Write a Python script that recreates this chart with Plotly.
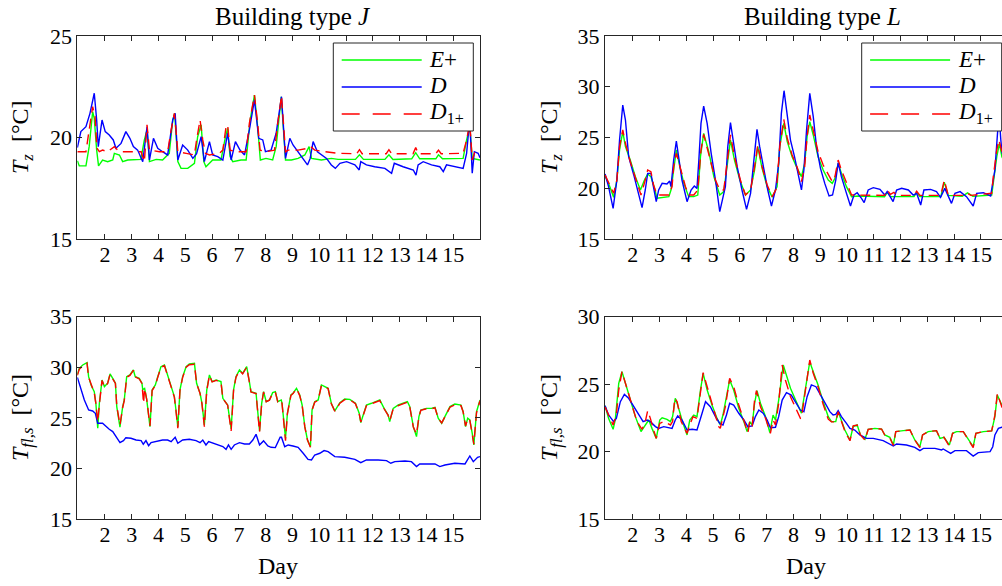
import plotly.graph_objects as go

# ---------------------------------------------------------------------------
# Zone air temperature T_z, building type J  (day, degC)
J_TZ_EPLUS = [
    (0.97, 18.85), (1.04, 18.60), (1.29, 18.60), (1.41, 19.55), (1.54, 21.27), (1.60, 20.94),
    (1.69, 19.38), (1.76, 18.60), (1.91, 18.89), (2.10, 18.81), (2.29, 18.89), (2.35, 19.22),
    (2.54, 19.14), (2.66, 18.81), (2.85, 18.89), (3.10, 18.89), (3.34, 18.92), (3.47, 19.88),
    (3.57, 20.37), (3.66, 18.81), (3.91, 18.92), (4.15, 18.89), (4.40, 19.22), (4.53, 20.86),
    (4.60, 21.19), (4.72, 18.81), (4.84, 18.48), (5.09, 18.48), (5.34, 18.73), (5.46, 20.04),
    (5.59, 20.62), (5.69, 18.81), (5.77, 18.56), (6.02, 18.89), (6.33, 18.89), (6.50, 20.04),
    (6.58, 20.45), (6.67, 19.06), (6.77, 18.81), (7.08, 18.89), (7.27, 18.89), (7.42, 20.86),
    (7.58, 22.09), (7.70, 20.53), (7.80, 18.89), (8.01, 18.97), (8.26, 18.89), (8.39, 19.55),
    (8.58, 22.01), (8.74, 18.89), (8.96, 18.89), (9.21, 18.97), (9.46, 19.14), (9.62, 19.55),
    (9.71, 18.97), (10.08, 18.89), (10.45, 18.97), (10.70, 18.92), (11.35, 18.92), (11.50, 19.15),
    (11.65, 18.92), (12.45, 18.92), (12.60, 19.15), (12.75, 18.92), (13.45, 18.95), (13.60, 19.25),
    (13.75, 18.95), (14.35, 18.95), (14.45, 19.15), (14.60, 18.95), (15.37, 18.97), (15.50, 19.88),
    (15.62, 20.53), (15.71, 18.97), (15.93, 18.89), (16.00, 18.89),
]
J_TZ_D = [
    (0.97, 19.50), (1.03, 19.90), (1.10, 20.29), (1.29, 20.53), (1.44, 21.19), (1.60, 22.18),
    (1.69, 20.86), (1.75, 19.55), (1.89, 20.86), (2.01, 20.29), (2.16, 20.12), (2.31, 19.88),
    (2.41, 19.47), (2.60, 19.71), (2.78, 20.29), (2.93, 19.96), (3.06, 19.55), (3.22, 19.38),
    (3.41, 18.81), (3.57, 20.53), (3.66, 18.89), (3.81, 19.96), (3.97, 19.47), (4.15, 19.30),
    (4.34, 19.14), (4.53, 20.86), (4.62, 21.19), (4.72, 18.89), (4.90, 19.63), (5.09, 19.38),
    (5.28, 18.97), (5.42, 19.20), (5.59, 20.04), (5.71, 18.81), (5.90, 19.80), (6.02, 19.14),
    (6.21, 19.06), (6.40, 18.89), (6.58, 20.21), (6.71, 18.89), (6.87, 19.80), (7.04, 19.38),
    (7.21, 19.14), (7.39, 20.37), (7.58, 21.85), (7.74, 19.96), (7.89, 19.88), (7.99, 19.30),
    (8.20, 19.38), (8.39, 20.21), (8.59, 22.01), (8.74, 18.97), (8.90, 19.96), (9.02, 19.63),
    (9.21, 19.30), (9.40, 18.97), (9.56, 18.65), (9.66, 18.97), (9.77, 19.80), (9.93, 19.30),
    (10.08, 19.14), (10.27, 18.97), (10.45, 18.65), (10.60, 18.48), (10.77, 18.73), (11.02, 18.81),
    (11.33, 18.65), (11.49, 18.40), (11.55, 18.81), (11.76, 18.65), (12.07, 18.56), (12.45, 18.48),
    (12.70, 18.24), (12.80, 18.73), (13.13, 18.56), (13.51, 18.40), (13.61, 18.15), (13.69, 18.65),
    (13.88, 18.81), (14.19, 18.65), (14.50, 18.56), (14.63, 18.32), (14.75, 18.65), (15.13, 18.56),
    (15.37, 18.48), (15.50, 19.22), (15.59, 20.53), (15.63, 20.50), (15.71, 18.24), (15.79, 19.30),
    (15.93, 19.22), (16.00, 19.00),
]
J_TZ_D1 = [
    (0.97, 19.30), (1.29, 19.30), (1.41, 20.37), (1.54, 21.52), (1.63, 21.03), (1.70, 19.47),
    (1.79, 19.30), (1.91, 19.38), (2.10, 19.30), (2.35, 19.55), (2.47, 19.38), (2.60, 19.30),
    (3.35, 19.30), (3.47, 18.81), (3.57, 20.62), (3.66, 19.38), (4.03, 19.30), (4.34, 19.30),
    (4.47, 20.37), (4.59, 21.19), (4.65, 20.37), (4.72, 19.30), (5.03, 19.22), (5.34, 19.14),
    (5.42, 19.88), (5.55, 20.86), (5.65, 19.88), (5.75, 19.22), (5.90, 19.14), (6.27, 19.22),
    (6.40, 19.38), (6.52, 20.53), (6.58, 20.62), (6.67, 19.38), (6.89, 19.30), (7.27, 19.30),
    (7.39, 20.70), (7.58, 22.09), (7.70, 20.70), (7.79, 19.38), (8.01, 19.30), (8.33, 19.38),
    (8.45, 20.70), (8.59, 22.05), (8.74, 19.30), (8.84, 19.38), (9.21, 19.38), (9.58, 19.47),
    (9.68, 19.55), (9.83, 19.38), (10.21, 19.30), (10.70, 19.22), (11.40, 19.20), (11.50, 19.40),
    (11.60, 19.20), (12.50, 19.20), (12.60, 19.40), (12.70, 19.20), (13.50, 19.20), (13.60, 19.50),
    (13.70, 19.20), (14.35, 19.20), (14.45, 19.38), (14.55, 19.20), (15.37, 19.22), (15.50, 19.88),
    (15.62, 20.70), (15.71, 18.89), (15.81, 19.30), (16.00, 19.30),
]

# Floor surface temperature T_fl,s, building type J
J_TFL_EPLUS = [
    (0.97, 29.30), (1.04, 29.90), (1.17, 30.23), (1.33, 30.46), (1.39, 29.07), (1.48, 28.25),
    (1.60, 27.59), (1.66, 26.44), (1.73, 23.97), (1.79, 26.44), (1.89, 28.74), (1.98, 28.09),
    (2.10, 28.42), (2.19, 29.34), (2.29, 28.91), (2.39, 28.42), (2.44, 26.11), (2.56, 24.07),
    (2.66, 26.11), (2.72, 26.77), (2.81, 29.07), (2.93, 29.24), (3.06, 29.73), (3.13, 29.07),
    (3.28, 28.91), (3.38, 28.42), (3.41, 27.80), (3.48, 27.92), (3.56, 26.77), (3.68, 24.13),
    (3.76, 27.76), (3.88, 28.25), (3.97, 29.07), (4.09, 30.06), (4.22, 30.23), (4.34, 29.24),
    (4.47, 28.09), (4.59, 27.10), (4.65, 25.78), (4.72, 24.10), (4.80, 27.76), (4.90, 29.07),
    (5.03, 30.06), (5.15, 30.33), (5.34, 30.39), (5.42, 28.42), (5.55, 27.43), (5.62, 26.44),
    (5.71, 24.30), (5.80, 27.76), (5.90, 29.24), (6.00, 28.58), (6.15, 28.74), (6.33, 28.58),
    (6.40, 26.93), (6.52, 26.44), (6.58, 26.27), (6.71, 23.90), (6.80, 27.76), (6.89, 29.07),
    (7.02, 29.73), (7.14, 29.40), (7.29, 30.06), (7.39, 28.58), (7.45, 27.59), (7.64, 27.43),
    (7.77, 23.70), (7.85, 26.44), (7.92, 27.59), (8.02, 26.60), (8.14, 26.77), (8.26, 27.49),
    (8.36, 27.59), (8.45, 26.60), (8.58, 26.77), (8.61, 26.44), (8.69, 24.13), (8.74, 23.00),
    (8.81, 25.45), (8.94, 27.26), (9.02, 27.43), (9.15, 27.92), (9.27, 27.26), (9.36, 26.27),
    (9.46, 24.13), (9.56, 22.81), (9.67, 22.15), (9.73, 25.78), (9.83, 26.60), (9.96, 26.77),
    (10.08, 28.25), (10.23, 28.09), (10.33, 27.92), (10.45, 26.44), (10.58, 25.68), (10.77, 26.50),
    (10.95, 26.87), (11.14, 26.83), (11.35, 26.44), (11.49, 25.45), (11.55, 24.53), (11.64, 25.29),
    (11.76, 26.27), (11.95, 26.44), (12.14, 26.60), (12.26, 26.77), (12.42, 25.94), (12.57, 25.29),
    (12.63, 24.63), (12.76, 25.94), (12.95, 26.27), (13.13, 26.44), (13.29, 26.60), (13.38, 26.11),
    (13.51, 24.13), (13.63, 23.14), (13.72, 25.12), (13.79, 25.78), (14.00, 25.94), (14.19, 25.94),
    (14.32, 26.04), (14.44, 24.96), (14.57, 24.46), (14.69, 25.12), (14.88, 26.11), (15.06, 26.37),
    (15.29, 26.27), (15.37, 25.61), (15.46, 24.13), (15.54, 24.96), (15.62, 24.79), (15.71, 23.47),
    (15.77, 22.32), (15.87, 25.61), (16.00, 26.77),
]
J_TFL_D = [
    (0.97, 29.00), (1.10, 27.76), (1.23, 26.77), (1.39, 25.78), (1.54, 25.68), (1.64, 25.45),
    (1.73, 24.46), (1.91, 24.46), (2.04, 24.13), (2.16, 23.87), (2.29, 23.64), (2.41, 23.14),
    (2.56, 22.55), (2.69, 22.75), (2.78, 23.04), (2.97, 22.98), (3.16, 22.81), (3.35, 22.75),
    (3.43, 22.39), (3.53, 22.75), (3.63, 22.25), (3.72, 22.55), (3.91, 22.65), (4.15, 22.81),
    (4.34, 22.81), (4.47, 22.65), (4.62, 23.08), (4.72, 22.49), (4.90, 22.81), (5.15, 22.88),
    (5.40, 22.75), (5.55, 22.55), (5.65, 22.81), (5.77, 22.32), (5.87, 22.65), (6.02, 22.49),
    (6.21, 22.32), (6.40, 22.16), (6.52, 21.89), (6.61, 22.32), (6.71, 21.89), (6.83, 22.32),
    (7.02, 22.55), (7.21, 22.42), (7.39, 22.42), (7.52, 22.81), (7.64, 23.37), (7.77, 22.32),
    (7.92, 22.72), (8.08, 22.22), (8.20, 22.09), (8.36, 22.06), (8.54, 23.08), (8.59, 23.08),
    (8.71, 22.15), (8.84, 22.32), (9.02, 22.22), (9.21, 22.09), (9.40, 21.50), (9.58, 20.90),
    (9.71, 20.84), (9.83, 21.33), (10.02, 21.50), (10.18, 21.76), (10.33, 21.66), (10.58, 21.17),
    (10.95, 21.10), (11.33, 20.90), (11.55, 20.57), (11.76, 20.84), (12.20, 20.84), (12.51, 20.77),
    (12.67, 20.51), (12.82, 20.67), (13.20, 20.74), (13.44, 20.67), (13.63, 20.18), (13.75, 20.44),
    (14.32, 20.44), (14.50, 20.18), (14.69, 20.34), (15.06, 20.51), (15.44, 20.44), (15.62, 21.23),
    (15.75, 20.67), (15.91, 21.10), (16.00, 21.17),
]
# D_1+ follows E+ closely on the floor surface, with slightly deeper dips
J_TFL_D1 = [
    (0.97, 29.20), (1.04, 29.80), (1.17, 30.15), (1.33, 30.40), (1.39, 29.00), (1.48, 28.30),
    (1.60, 27.50), (1.66, 26.40), (1.73, 24.62), (1.79, 26.30), (1.89, 28.70), (1.98, 28.05),
    (2.10, 28.40), (2.19, 29.30), (2.29, 28.85), (2.39, 28.40), (2.44, 26.20), (2.56, 24.30),
    (2.66, 26.00), (2.72, 26.70), (2.81, 29.00), (2.93, 29.20), (3.06, 29.70), (3.13, 29.05),
    (3.28, 28.85), (3.38, 28.40), (3.44, 26.44), (3.48, 27.90), (3.56, 26.80), (3.68, 24.20),
    (3.76, 27.70), (3.88, 28.20), (3.97, 29.00), (4.09, 30.00), (4.22, 30.15), (4.34, 29.20),
    (4.47, 28.05), (4.59, 27.05), (4.65, 25.70), (4.72, 23.97), (4.80, 27.70), (4.90, 29.00),
    (5.03, 30.00), (5.15, 30.25), (5.34, 30.30), (5.42, 28.40), (5.55, 27.40), (5.62, 26.40),
    (5.71, 24.13), (5.80, 27.70), (5.90, 29.20), (6.00, 28.55), (6.15, 28.70), (6.33, 28.55),
    (6.40, 26.90), (6.52, 26.40), (6.58, 26.25), (6.71, 23.70), (6.80, 27.70), (6.89, 29.00),
    (7.02, 29.70), (7.14, 29.35), (7.29, 30.00), (7.39, 28.55), (7.45, 27.55), (7.64, 27.40),
    (7.77, 23.60), (7.85, 26.40), (7.92, 27.55), (8.02, 26.60), (8.14, 26.75), (8.26, 27.45),
    (8.36, 27.55), (8.45, 26.60), (8.58, 26.75), (8.61, 26.40), (8.69, 24.10), (8.74, 22.74),
    (8.81, 25.40), (8.94, 27.20), (9.02, 27.40), (9.15, 27.90), (9.27, 27.20), (9.36, 26.25),
    (9.46, 24.10), (9.56, 22.80), (9.67, 22.10), (9.73, 25.75), (9.83, 26.55), (9.96, 26.75),
    (10.08, 28.20), (10.23, 28.05), (10.33, 27.90), (10.45, 26.40), (10.58, 25.65), (10.77, 26.45),
    (10.95, 26.80), (11.14, 26.80), (11.35, 26.40), (11.49, 25.40), (11.55, 24.60), (11.64, 25.25),
    (11.76, 26.20), (11.95, 26.40), (12.14, 26.55), (12.26, 26.70), (12.42, 25.90), (12.57, 25.25),
    (12.63, 24.70), (12.76, 25.90), (12.95, 26.20), (13.13, 26.40), (13.29, 26.55), (13.38, 26.05),
    (13.51, 24.10), (13.63, 23.40), (13.72, 25.10), (13.79, 25.75), (14.00, 25.90), (14.19, 25.90),
    (14.32, 26.00), (14.44, 24.95), (14.57, 24.50), (14.69, 25.10), (14.88, 26.05), (15.06, 26.30),
    (15.29, 26.20), (15.37, 25.60), (15.46, 24.20), (15.54, 24.95), (15.62, 24.75), (15.71, 23.40),
    (15.77, 22.40), (15.87, 25.50), (16.00, 26.70),
]

# Zone air temperature T_z, building type L
L_TZ_EPLUS = [
    (0.97, 21.20), (1.10, 20.48), (1.29, 19.11), (1.41, 20.81), (1.51, 23.77), (1.63, 25.57),
    (1.73, 24.10), (1.91, 22.78), (2.10, 21.14), (2.29, 19.83), (2.44, 20.81), (2.56, 21.40),
    (2.68, 21.14), (2.78, 20.32), (2.91, 19.01), (3.10, 19.11), (3.35, 19.17), (3.43, 19.83),
    (3.53, 21.80), (3.63, 23.77), (3.76, 22.13), (3.91, 20.48), (4.09, 19.17), (4.28, 19.17),
    (4.43, 19.33), (4.53, 23.11), (4.65, 25.41), (4.84, 23.60), (5.03, 21.14), (5.25, 19.33),
    (5.40, 19.67), (5.50, 21.80), (5.65, 24.75), (5.80, 22.78), (6.00, 20.81), (6.21, 19.33),
    (6.40, 19.83), (6.55, 21.80), (6.67, 24.10), (6.83, 21.96), (7.02, 20.16), (7.21, 19.11),
    (7.39, 20.16), (7.49, 24.10), (7.64, 26.39), (7.77, 24.59), (7.95, 23.11), (8.14, 21.96),
    (8.30, 21.14), (8.42, 22.45), (8.51, 25.08), (8.61, 26.56), (8.74, 25.25), (8.92, 23.11),
    (9.11, 21.80), (9.30, 20.81), (9.45, 20.48), (9.55, 20.98), (9.67, 22.45), (9.79, 21.47),
    (9.98, 20.16), (10.17, 19.17), (10.42, 19.24), (11.40, 19.17), (11.50, 19.60), (11.62, 19.17),
    (12.50, 19.17), (12.60, 19.60), (12.72, 19.17), (13.50, 19.17), (13.63, 20.60), (13.78, 19.30),
    (14.30, 19.20), (14.50, 19.55), (14.70, 19.20), (15.40, 19.33), (15.46, 20.48), (15.59, 23.11),
    (15.69, 24.43), (15.78, 23.11), (16.00, 22.00),
]
L_TZ_D = [
    (0.97, 21.40), (1.10, 20.16), (1.27, 18.02), (1.41, 20.81), (1.51, 24.75), (1.63, 28.20),
    (1.73, 26.72), (1.85, 23.11), (2.04, 21.31), (2.20, 19.50), (2.35, 18.09), (2.47, 19.83),
    (2.56, 21.47), (2.68, 21.47), (2.78, 20.16), (2.88, 18.68), (2.97, 19.83), (3.10, 20.48),
    (3.28, 20.42), (3.38, 20.71), (3.43, 20.16), (3.53, 22.78), (3.63, 24.65), (3.72, 23.11),
    (3.84, 20.81), (4.03, 18.68), (4.18, 19.83), (4.30, 20.22), (4.40, 19.99), (4.47, 22.78),
    (4.55, 26.39), (4.65, 28.10), (4.78, 26.39), (4.93, 23.44), (5.09, 20.81), (5.25, 17.69),
    (5.37, 19.17), (5.46, 20.16), (5.55, 24.10), (5.65, 26.46), (5.75, 24.75), (5.90, 22.13),
    (6.08, 19.83), (6.25, 17.92), (6.40, 19.50), (6.52, 22.45), (6.64, 25.80), (6.74, 24.10),
    (6.89, 21.80), (7.04, 19.83), (7.18, 18.25), (7.33, 19.83), (7.45, 22.45), (7.55, 27.38),
    (7.65, 29.61), (7.77, 27.38), (7.89, 24.75), (8.04, 23.11), (8.20, 21.14), (8.30, 19.83),
    (8.39, 21.80), (8.49, 25.74), (8.61, 29.35), (8.74, 27.05), (8.86, 24.10), (9.01, 21.96),
    (9.17, 20.48), (9.33, 19.24), (9.46, 19.33), (9.58, 20.81), (9.67, 22.52), (9.79, 21.14),
    (9.96, 19.67), (10.13, 18.25), (10.26, 19.33), (10.38, 19.56), (10.54, 19.01), (10.64, 18.58),
    (10.79, 19.83), (10.98, 20.06), (11.23, 19.89), (11.41, 19.33), (11.50, 19.67), (11.62, 19.17),
    (11.72, 18.68), (11.85, 19.83), (12.04, 19.99), (12.29, 19.83), (12.47, 19.33), (12.60, 19.50),
    (12.75, 18.35), (12.87, 19.83), (13.12, 19.89), (13.34, 19.67), (13.49, 19.11), (13.65, 19.99),
    (13.78, 19.17), (13.90, 18.51), (14.03, 19.50), (14.22, 19.67), (14.46, 19.17), (14.71, 18.25),
    (14.84, 19.50), (15.09, 19.56), (15.36, 19.24), (15.52, 21.80), (15.62, 25.50), (15.69, 26.80),
    (15.74, 24.80), (15.78, 23.60), (16.00, 21.50),
]
L_TZ_D1 = [
    (0.97, 21.31), (1.29, 19.50), (1.41, 20.81), (1.51, 24.10), (1.63, 25.74), (1.73, 24.43),
    (1.91, 22.62), (2.10, 21.14), (2.31, 19.33), (2.47, 20.81), (2.56, 21.80), (2.68, 21.64),
    (2.78, 20.32), (2.91, 19.33), (3.35, 19.33), (3.47, 20.16), (3.53, 22.13), (3.63, 23.44),
    (3.78, 21.96), (3.97, 20.16), (4.09, 19.33), (4.28, 19.33), (4.43, 19.83), (4.55, 23.77),
    (4.65, 25.30), (4.84, 23.28), (5.09, 20.81), (5.25, 19.83), (5.40, 19.83), (5.52, 22.45),
    (5.65, 25.25), (5.80, 23.11), (6.02, 20.81), (6.21, 19.33), (6.40, 19.83), (6.55, 22.13),
    (6.67, 24.26), (6.83, 22.13), (7.02, 20.32), (7.21, 19.17), (7.37, 19.99), (7.49, 24.10),
    (7.64, 26.79), (7.77, 24.92), (7.95, 23.28), (8.14, 22.06), (8.30, 20.65), (8.42, 22.13),
    (8.51, 25.08), (8.61, 27.22), (8.74, 25.74), (8.92, 23.60), (9.11, 22.29), (9.30, 21.31),
    (9.45, 20.65), (9.55, 21.14), (9.67, 22.78), (9.79, 21.80), (9.98, 20.48), (10.17, 19.33),
    (11.40, 19.30), (11.50, 19.83), (11.62, 19.40), (11.75, 19.60), (11.85, 19.30), (12.50, 19.30),
    (12.60, 19.70), (12.72, 19.30), (13.50, 19.30), (13.63, 20.80), (13.78, 19.30), (14.40, 19.30),
    (14.50, 19.50), (14.62, 19.30), (15.40, 19.50), (15.46, 21.14), (15.59, 23.77), (15.67, 24.75),
    (15.78, 23.60), (16.00, 22.20),
]

# Floor surface temperature T_fl,s, building type L
L_TFL_EPLUS = [
    (0.97, 23.40), (1.10, 22.46), (1.27, 21.65), (1.35, 22.34), (1.48, 25.06), (1.60, 25.92),
    (1.73, 25.06), (1.91, 23.82), (2.10, 22.59), (2.31, 21.48), (2.47, 21.97), (2.60, 22.34),
    (2.72, 21.72), (2.88, 20.98), (3.01, 22.34), (3.10, 22.51), (3.28, 22.39), (3.41, 22.22),
    (3.49, 22.59), (3.59, 23.95), (3.68, 23.45), (3.84, 22.34), (4.03, 21.23), (4.13, 22.34),
    (4.28, 22.71), (4.40, 22.59), (4.53, 24.56), (4.63, 25.80), (4.78, 24.56), (4.96, 23.45),
    (5.15, 22.46), (5.27, 21.97), (5.37, 22.71), (5.46, 23.58), (5.62, 25.31), (5.77, 24.56),
    (5.96, 23.21), (6.15, 22.22), (6.27, 21.48), (6.37, 22.22), (6.46, 21.97), (6.55, 23.58),
    (6.64, 24.52), (6.77, 23.58), (6.96, 22.59), (7.12, 21.40), (7.24, 22.71), (7.33, 22.34),
    (7.45, 23.82), (7.62, 26.42), (7.74, 25.68), (7.89, 24.69), (8.08, 23.82), (8.26, 22.96),
    (8.30, 22.84), (8.42, 24.32), (8.55, 26.05), (8.61, 26.66), (8.74, 25.92), (8.92, 24.94),
    (9.11, 23.70), (9.30, 22.59), (9.42, 22.22), (9.58, 22.22), (9.67, 22.96), (9.79, 22.34),
    (9.92, 21.60), (10.11, 20.86), (10.23, 21.85), (10.38, 21.97), (10.50, 21.23), (10.67, 20.91),
    (10.79, 21.65), (11.04, 21.72), (11.29, 21.67), (11.41, 21.23), (11.60, 21.06), (11.73, 20.49),
    (11.82, 21.48), (12.10, 21.55), (12.35, 21.60), (12.53, 20.86), (12.72, 20.36), (12.82, 21.23),
    (13.03, 21.48), (13.34, 21.55), (13.47, 20.98), (13.62, 21.06), (13.72, 20.74), (13.82, 20.49),
    (13.94, 21.35), (14.09, 21.48), (14.34, 21.48), (14.46, 21.11), (14.71, 20.36), (14.81, 21.35),
    (15.09, 21.48), (15.40, 21.53), (15.52, 22.59), (15.61, 24.19), (15.71, 23.82), (15.78, 23.45),
    (16.00, 23.00),
]
L_TFL_D = [
    (0.97, 23.40), (1.10, 22.71), (1.29, 22.22), (1.39, 22.46), (1.54, 23.70), (1.69, 24.24),
    (1.85, 23.95), (2.04, 23.33), (2.22, 22.71), (2.39, 22.22), (2.54, 22.34), (2.66, 22.22),
    (2.85, 21.85), (2.97, 21.72), (3.16, 21.85), (3.35, 21.80), (3.47, 21.72), (3.59, 22.34),
    (3.68, 22.64), (3.84, 22.34), (4.03, 21.60), (4.22, 21.65), (4.40, 21.60), (4.59, 22.84),
    (4.72, 23.70), (4.90, 23.33), (5.09, 22.59), (5.25, 22.09), (5.37, 21.97), (5.50, 22.71),
    (5.62, 23.58), (5.77, 23.45), (5.96, 22.84), (6.15, 22.34), (6.30, 21.85), (6.46, 21.90),
    (6.58, 22.59), (6.71, 23.08), (6.87, 22.84), (7.02, 22.34), (7.14, 21.77), (7.33, 21.80),
    (7.45, 22.59), (7.58, 23.82), (7.74, 24.37), (7.92, 24.19), (8.11, 23.58), (8.26, 23.08),
    (8.39, 22.96), (8.51, 24.07), (8.67, 24.94), (8.84, 24.81), (8.98, 24.32), (9.17, 23.58),
    (9.36, 22.96), (9.48, 22.71), (9.58, 22.76), (9.67, 23.03), (9.79, 22.59), (9.98, 22.09),
    (10.11, 21.72), (10.29, 21.60), (10.48, 21.23), (10.73, 20.98), (10.98, 20.98), (11.35, 20.81),
    (11.73, 20.41), (11.85, 20.56), (12.22, 20.49), (12.53, 20.31), (12.72, 20.07), (12.85, 20.24),
    (13.28, 20.24), (13.53, 20.12), (13.59, 20.19), (13.87, 19.87), (14.03, 20.07), (14.46, 20.07),
    (14.71, 19.67), (14.90, 19.92), (15.34, 19.99), (15.44, 20.36), (15.52, 21.23), (15.65, 21.72),
    (15.78, 21.80), (16.00, 21.80),
]
L_TFL_D1 = [
    (0.97, 23.30), (1.27, 21.97), (1.39, 22.71), (1.48, 24.56), (1.60, 25.92), (1.73, 25.06),
    (1.98, 23.45), (2.16, 22.22), (2.35, 21.65), (2.47, 22.22), (2.56, 23.03), (2.66, 22.46),
    (2.78, 21.60), (2.88, 20.98), (3.01, 22.09), (3.16, 22.22), (3.41, 21.97), (3.49, 22.22),
    (3.57, 23.95), (3.66, 23.70), (3.81, 22.22), (4.03, 21.35), (4.13, 21.97), (4.25, 22.59),
    (4.40, 22.46), (4.53, 24.56), (4.63, 25.85), (4.78, 24.81), (5.03, 23.08), (5.21, 21.85),
    (5.27, 21.72), (5.37, 22.59), (5.46, 23.33), (5.62, 25.43), (5.77, 24.81), (5.96, 23.45),
    (6.21, 21.97), (6.30, 21.40), (6.37, 22.22), (6.46, 21.85), (6.55, 23.82), (6.62, 24.52),
    (6.77, 23.33), (6.96, 22.46), (7.14, 21.35), (7.24, 22.34), (7.33, 21.97), (7.45, 23.58),
    (7.58, 26.42), (7.70, 25.31), (7.89, 24.07), (8.08, 23.21), (8.26, 22.46), (8.30, 22.50),
    (8.42, 24.20), (8.55, 26.20), (8.61, 26.79), (8.74, 25.80), (8.92, 24.80), (9.11, 23.50),
    (9.30, 22.40), (9.42, 22.20), (9.58, 22.20), (9.67, 22.96), (9.79, 22.30), (9.92, 21.50),
    (10.11, 20.80), (10.23, 21.90), (10.38, 21.97), (10.50, 21.23), (10.67, 20.85), (10.79, 21.65),
    (11.04, 21.72), (11.29, 21.67), (11.41, 21.23), (11.60, 21.00), (11.73, 20.45), (11.82, 21.48),
    (12.10, 21.55), (12.35, 21.60), (12.53, 20.86), (12.72, 20.30), (12.82, 21.23), (13.03, 21.48),
    (13.34, 21.55), (13.47, 20.98), (13.62, 21.06), (13.72, 20.74), (13.82, 20.40), (13.94, 21.35),
    (14.09, 21.48), (14.34, 21.48), (14.46, 21.11), (14.71, 20.30), (14.81, 21.35), (15.09, 21.48),
    (15.40, 21.53), (15.52, 22.70), (15.61, 24.30), (15.71, 23.80), (15.78, 23.30), (16.00, 23.00),
]

DAY_TICKS = list(range(2, 16))
SERIES_NAMES = ["<i>E</i>+", "<i>D</i>", "<i>D</i><sub>1+</sub>"]
PANEL_TITLES = ["Building type <i>J</i>", "Building type <i>L</i>"]
Y_TITLES = ["<i>T</i><sub><i>z</i></sub>  [°C]", "<i>T</i><sub><i>fl,s</i></sub>  [°C]"]
X_TITLE = "Day"

# ---------------------------------------------------------------------------
W, H = 1002, 586
FONT = "Liberation Serif"
INK = "#262626"
GREEN, BLUE, RED = "#00ff00", "#0000ff", "#ff0000"


def px(x):
    return x / W


def py(y):
    return 1 - y / H


fig = go.Figure()

# (traces, xaxis id, yaxis id) for each panel
panels = [
    ((J_TZ_EPLUS, J_TZ_D, J_TZ_D1), "x", "y"),
    ((L_TZ_EPLUS, L_TZ_D, L_TZ_D1), "x2", "y2"),
    ((J_TFL_EPLUS, J_TFL_D, J_TFL_D1), "x3", "y3"),
    ((L_TFL_EPLUS, L_TFL_D, L_TFL_D1), "x4", "y4"),
]
styles = [
    dict(color=GREEN, width=1.4),
    dict(color=BLUE, width=1.4),
    dict(color=RED, width=1.4, dash="10px,6px"),
]
for series, xa, ya in panels:
    for data, style, name in zip(series, styles, SERIES_NAMES):
        fig.add_trace(go.Scatter(
            x=[d for d, _ in data], y=[v for _, v in data],
            mode="lines", line=style, name=name, xaxis=xa, yaxis=ya,
            showlegend=False, hoverinfo="skip",
        ))

axis_common = dict(
    showline=True, linecolor=INK, linewidth=1, ticks="inside", ticklen=5,
    tickwidth=1, tickcolor=INK, showgrid=False, zeroline=False, automargin=False,
    tickfont=dict(family=FONT, size=22, color="black"),
)
x_left = [px(77.3), px(480)]
x_right = [px(605), 1.0]
y_top = [py(239), py(36)]
y_bot = [py(519), py(316.7)]
x_common = dict(axis_common, tickvals=DAY_TICKS, ticklabelstandoff=-4, mirror="ticks")

fig.update_layout(
    width=W, height=H, autosize=False,
    margin=dict(l=0, r=0, t=0, b=0, pad=0, autoexpand=False),
    paper_bgcolor="white", plot_bgcolor="white", showlegend=False,
    xaxis=dict(x_common, domain=x_left, range=[0.967, 16.0], anchor="y"),
    xaxis2=dict(x_common, domain=x_right, range=[0.967, 15.785], anchor="y2"),
    xaxis3=dict(x_common, domain=x_left, range=[0.967, 16.0], anchor="y3"),
    xaxis4=dict(x_common, domain=x_right, range=[0.967, 15.785], anchor="y4"),
    yaxis=dict(axis_common, domain=y_top, range=[15, 25], dtick=5, mirror="ticks", anchor="x"),
    yaxis2=dict(axis_common, domain=y_top, range=[15, 35], dtick=5, mirror=False, anchor="x2"),
    yaxis3=dict(axis_common, domain=y_bot, range=[15, 35], dtick=5, mirror="ticks", anchor="x3"),
    yaxis4=dict(axis_common, domain=y_bot, range=[15, 30], dtick=5, mirror=False, anchor="x4"),
)

annotations = []
shapes = []


def text(x, y, s, size, angle=0, xanchor="center"):
    annotations.append(dict(
        x=px(x), y=py(y), xref="paper", yref="paper", text=s, showarrow=False,
        xanchor=xanchor, yanchor="middle", textangle=angle,
        font=dict(family=FONT, size=size, color="black"),
    ))


# panel titles, axis titles
text(293, 17, PANEL_TITLES[0], 25)
text(822, 17, PANEL_TITLES[1], 25)
for xc in (22, 551):
    text(xc, 138, Y_TITLES[0], 24, angle=-90)
    text(xc, 418, Y_TITLES[1], 24, angle=-90)
text(278, 566, X_TITLE, 24)
text(806, 566, X_TITLE, 24)

# boxed legends in the upper panels
for left in (333.3, 861.7):
    shapes.append(dict(
        type="rect", xref="paper", yref="paper", x0=px(left), x1=px(left + 140),
        y0=py(131), y1=py(43), line=dict(color=INK, width=1), fillcolor="white", layer="above",
    ))
    for row, (style, name) in enumerate(zip(styles, SERIES_NAMES)):
        yy = 60 + row * 27
        dash = "18px,13px" if style.get("dash") else "solid"
        shapes.append(dict(
            type="line", xref="paper", yref="paper", x0=px(left + 8.4), x1=px(left + 88.4),
            y0=py(yy), y1=py(yy), line=dict(color=style["color"], width=1.4, dash=dash),
            layer="above",
        ))
        text(left + 94, yy - 1, name, 23, xanchor="left")

fig.update_layout(annotations=annotations, shapes=shapes)
fig.write_html(
    "out.html",
    post_script="document.body.style.margin='0';document.body.style.overflow='hidden';",
)
